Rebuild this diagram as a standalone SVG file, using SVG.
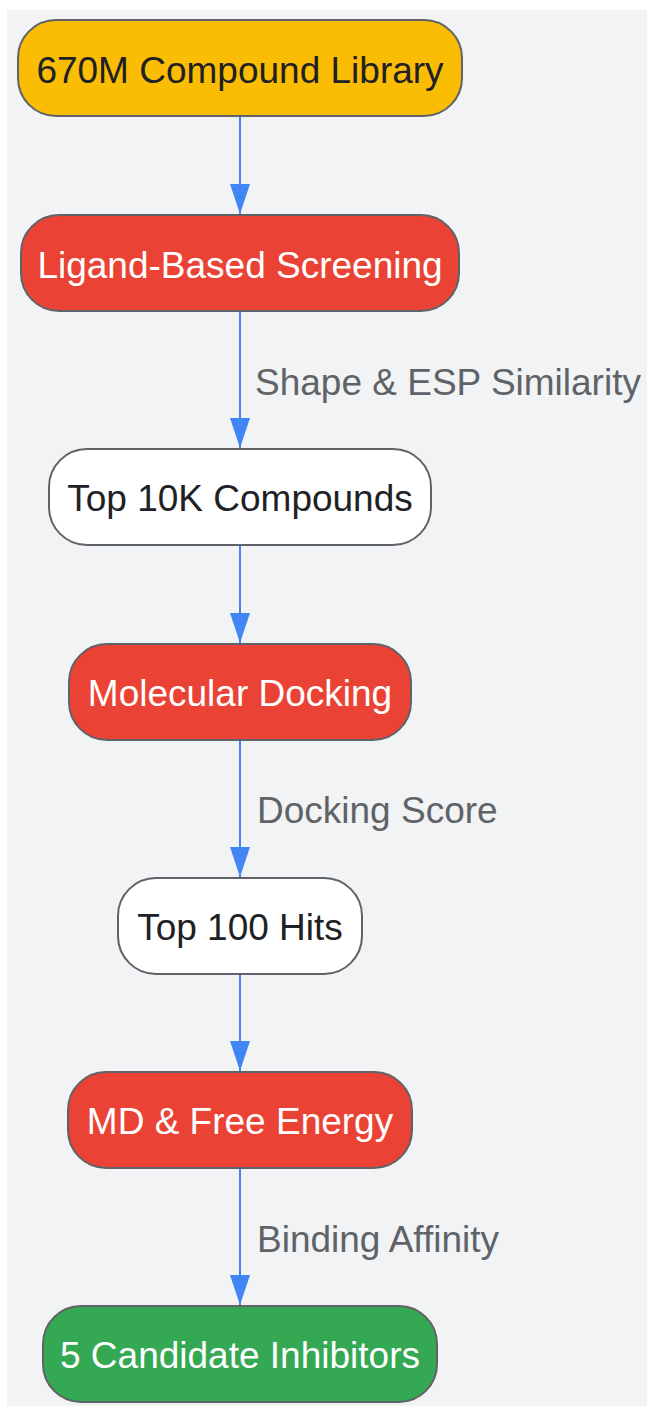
<svg xmlns="http://www.w3.org/2000/svg" width="647" height="1406" viewBox="0 0 647 1406">
<defs>
<style>
.node rect{stroke:#5f6368;stroke-width:2}
.t{font-family:"Liberation Sans",Arial,sans-serif;font-size:37px;text-anchor:middle;dominant-baseline:central}
.dark{fill:#202124}
.light{fill:#ffffff}
.edge{stroke:#4285f4;stroke-width:2;fill:none}
.lbl{font-family:"Liberation Sans",Arial,sans-serif;font-size:37px;fill:#5f6368;dominant-baseline:central}
</style>
<marker id="ah" markerWidth="30" markerHeight="20" refX="30" refY="10" orient="auto" markerUnits="userSpaceOnUse" viewBox="0 0 30 20">
<path d="M0,0 L30,10 L0,20 Z" fill="#4285f4"/>
</marker>
</defs>
<rect x="7" y="10" width="640" height="1396" fill="#f1f3f4"/>
<g id="connectors">
<line class="edge" x1="240" y1="116" x2="240" y2="214" marker-end="url(#ah)"/>
<line class="edge" x1="240" y1="311" x2="240" y2="448" marker-end="url(#ah)"/>
<line class="edge" x1="240" y1="545" x2="240" y2="643" marker-end="url(#ah)"/>
<line class="edge" x1="240" y1="740" x2="240" y2="877" marker-end="url(#ah)"/>
<line class="edge" x1="240" y1="974" x2="240" y2="1071" marker-end="url(#ah)"/>
<line class="edge" x1="240" y1="1168" x2="240" y2="1305" marker-end="url(#ah)"/>
<text class="lbl" x="255" y="382">Shape &amp; ESP Similarity</text>
<text class="lbl" x="257" y="810">Docking Score</text>
<text class="lbl" x="257" y="1239">Binding Affinity</text>
</g>
<g id="n1" class="node"><rect x="18" y="20" width="444" height="96" rx="38" fill="#fbbc04"/><text class="t dark" x="240" y="70">670M Compound Library</text></g>
<g id="n2" class="node"><rect x="21" y="215" width="438" height="96" rx="38" fill="#ea4335"/><text class="t light" x="240" y="265">Ligand-Based Screening</text></g>
<g id="n3" class="node"><rect x="49" y="449" width="382" height="96" rx="38" fill="#ffffff"/><text class="t dark" x="240" y="498">Top 10K Compounds</text></g>
<g id="n4" class="node"><rect x="69" y="644" width="342" height="96" rx="38" fill="#ea4335"/><text class="t light" x="240" y="693">Molecular Docking</text></g>
<g id="n5" class="node"><rect x="118" y="878" width="244" height="96" rx="38" fill="#ffffff"/><text class="t dark" x="240" y="927">Top 100 Hits</text></g>
<g id="n6" class="node"><rect x="68" y="1072" width="344" height="96" rx="38" fill="#ea4335"/><text class="t light" x="240" y="1121">MD &amp; Free Energy</text></g>
<g id="n7" class="node"><rect x="43" y="1306" width="394" height="96" rx="38" fill="#34a853"/><text class="t light" x="240" y="1355">5 Candidate Inhibitors</text></g>
</svg>
